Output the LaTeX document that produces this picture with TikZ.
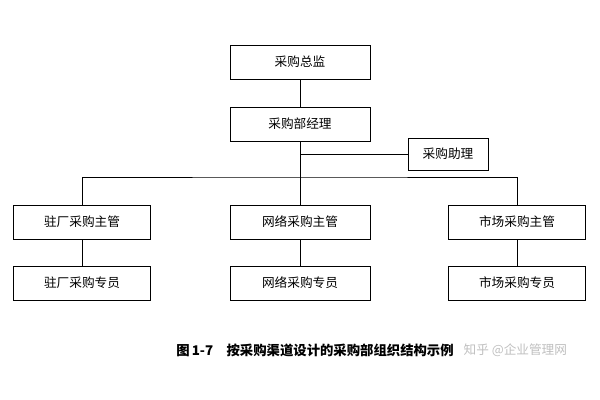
\documentclass[tikz,border=0pt]{standalone}
\usepackage{fontspec}
\newfontfamily\cjk{Noto Sans CJK SC}
\usetikzlibrary{positioning}

\begin{document}
\begin{tikzpicture}[
        x = 0.025cm, y = -0.025cm,
        font = \cjk\fontsize{9}{10}\selectfont,
        box/.style = {draw, thin, minimum width=3.5cm, minimum height=0.85cm, inner sep=0pt},
        smallbox/.style = {draw, thin, minimum width=2cm, minimum height=0.8cm, inner sep=0pt},
        link/.style = {thin}
    ]

    \useasboundingbox (0, 0) rectangle (600, 400);

    \node[box] (director) at (300, 62) {采购总监};
    \node[box] (manager) at (300, 124) {采购部经理};
    \node[smallbox] (assistant) at (448, 154) {采购助理};

    \node[box, minimum width=3.42cm] (factoryhead) at (82, 222) {驻厂采购主管};
    \node[box] (webhead) at (300, 222) {网络采购主管};
    \node[box, minimum width=3.42cm] (markethead) at (517, 222) {市场采购主管};

    \node[box, minimum width=3.42cm] (factorystaff) at (82, 283) {驻厂采购专员};
    \node[box] (webstaff) at (300, 283) {网络采购专员};
    \node[box, minimum width=3.42cm] (marketstaff) at (517, 283) {市场采购专员};

    \coordinate (bus) at (300, 177);
    \coordinate (tap) at (300, 154);

    \draw[link] (director) -- (manager);
    \draw[link] (manager) -- (bus);
    \draw[link] (tap) -- (assistant);
    \draw[link] (factoryhead.north) |- (bus) -| (markethead.north);
    \draw[link] (bus) -- (webhead);
    \foreach \n in {factory, web, market}
        \draw[link] (\n head) -- (\n staff);

    \node[font=\cjk\bfseries\fontsize{9.5}{11}\selectfont] (caption) at (315, 350)
        {图\,1-7\quad 按采购渠道设计的采购部组织结构示例};
    \node[text=black!25, anchor=west] (mark) at (caption.east) {知乎 @企业管理网};
\end{tikzpicture}
\end{document}
